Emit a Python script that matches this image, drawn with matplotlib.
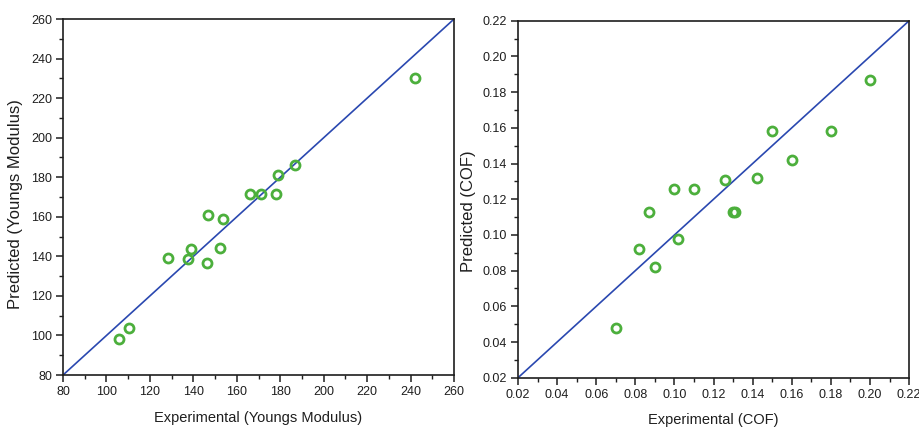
import matplotlib
matplotlib.use("Agg")
import matplotlib.pyplot as plt
from matplotlib.ticker import MultipleLocator

plt.rcParams['font.family'] = ['Liberation Sans', 'DejaVu Sans']

# Young's modulus: experimental vs predicted
ym_exp = [105.9, 110.2, 128.5, 137.4, 138.8, 146.3, 146.9, 152.4, 153.8,
          166.1, 171.2, 177.9, 179.1, 186.7, 242.0]
ym_pred = [98.2, 103.9, 139.3, 138.5, 143.7, 136.6, 160.7, 144.1, 158.7,
           171.3, 171.3, 171.3, 181.0, 186.3, 230.3]
ym_limits = [80, 260]

# Coefficient of friction: experimental vs predicted
cof_exp = [0.070, 0.082, 0.090, 0.087, 0.100, 0.102, 0.110, 0.126, 0.130,
           0.131, 0.142, 0.150, 0.160, 0.180, 0.200]
cof_pred = [0.048, 0.092, 0.082, 0.113, 0.1255, 0.0975, 0.126, 0.131, 0.113,
            0.113, 0.132, 0.158, 0.142, 0.158, 0.187]
cof_limits = [0.02, 0.22]

GREEN = '#4caf3c'
BLUE = '#2a48b0'
INK = '#1e1e1e'

fig = plt.figure(figsize=(9.19, 4.28), dpi=100)
ax1 = fig.add_axes([0.0686, 0.1238, 0.4255, 0.8318])
ax2 = fig.add_axes([0.5637, 0.1175, 0.4255, 0.834])


def style(ax, lim, major, minor, fmt):
    ax.set_xlim(lim)
    ax.set_ylim(lim)
    ax.xaxis.set_major_locator(MultipleLocator(major))
    ax.yaxis.set_major_locator(MultipleLocator(major))
    ax.xaxis.set_minor_locator(MultipleLocator(minor))
    ax.yaxis.set_minor_locator(MultipleLocator(minor))
    ax.xaxis.set_major_formatter(fmt)
    ax.yaxis.set_major_formatter(fmt)
    for s in ax.spines.values():
        s.set_linewidth(1.2)
        s.set_color(INK)
    ax.tick_params(which='major', direction='out', length=5, width=1.1,
                   labelsize=9, colors=INK, pad=3)
    ax.tick_params(which='minor', direction='out', length=3, width=1.0,
                   colors=INK)


def scatter_panel(ax, x, y, lim):
    ax.plot(lim, lim, color=BLUE, lw=1.2, zorder=2)
    ax.plot(x, y, 'o', ms=6.5, mfc='none', mec=GREEN, mew=2.0, zorder=3,
            clip_on=False)


scatter_panel(ax1, ym_exp, ym_pred, ym_limits)
style(ax1, ym_limits, 20, 10, lambda v, p: f"{v:.0f}")
ax1.set_xlabel('Experimental (Youngs Modulus)', fontsize=10.5, labelpad=9,
               color=INK)
ax1.set_ylabel('Predicted (Youngs Modulus)', fontsize=12, color=INK)
ax1.yaxis.set_label_coords(-0.103, 0.48)

scatter_panel(ax2, cof_exp, cof_pred, cof_limits)
style(ax2, cof_limits, 0.02, 0.01, lambda v, p: f"{v:.2f}")
ax2.set_xlabel('Experimental (COF)', fontsize=10.5, labelpad=9, color=INK)
ax2.set_ylabel('Predicted (COF)', fontsize=12, color=INK)
ax2.yaxis.set_label_coords(-0.108, 0.467)

fig.savefig('out.png', dpi=100)
